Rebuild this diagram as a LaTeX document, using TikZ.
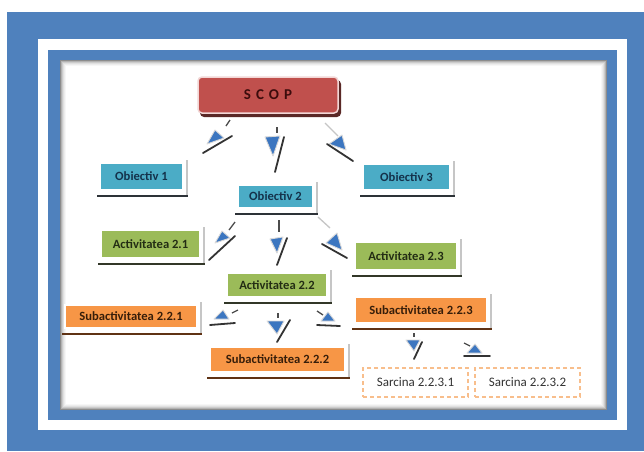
\documentclass[tikz,border=0pt]{standalone}
\usepackage{fontspec}
\setmainfont{Carlito}
\definecolor{frameblue}{RGB}{79,129,189}
\definecolor{aqua}{RGB}{75,172,198}
\definecolor{grn}{RGB}{155,187,89}
\definecolor{org}{RGB}{247,150,70}
\definecolor{scopred}{RGB}{192,80,77}
\definecolor{scopedge}{RGB}{242,215,214}
\definecolor{scopshadow}{RGB}{90,40,38}
\definecolor{arrblue}{RGB}{60,118,192}
\definecolor{dashorg}{RGB}{248,190,140}
\definecolor{txtaqua}{RGB}{20,50,75}
\definecolor{txtgrn}{RGB}{35,45,20}
\definecolor{txtorg}{RGB}{55,30,10}
\definecolor{txtscop}{RGB}{60,12,12}
\definecolor{shaqua}{RGB}{45,50,55}
\definecolor{shgrn}{RGB}{50,55,40}
\definecolor{shorg}{RGB}{95,50,20}
\newcommand\bxshadow[2]{%
  \draw[gray!45, line width=2pt] ([xshift=3.5pt,yshift=2pt]#1.north east) -- ([xshift=3.5pt,yshift=-5pt]#1.south east);
  \draw[#2, line width=1.8pt] ([xshift=-2pt,yshift=-5pt]#1.south west) -- ([xshift=4.5pt,yshift=-5pt]#1.south east);}
\begin{document}
\begin{tikzpicture}[x=1pt,y=-1pt,
  cbox/.style={draw=white, line width=1.2pt, inner sep=0pt,
    font=\fontsize{12.6}{15}\selectfont\bfseries},
  aquabox/.style={cbox, fill=aqua, text=txtaqua},
  grnbox/.style={cbox, fill=grn, text=txtgrn},
  orgbox/.style={cbox, fill=org, text=txtorg},
  sarbox/.style={draw=dashorg, line width=1.3pt, dash pattern=on 4pt off 3pt,
    fill=white, inner sep=0pt, text=black!80, font=\fontsize{13}{15}\selectfont,
    minimum width=105pt, minimum height=29pt},
  arrstub/.style={draw=black!70, line width=1.3pt},
  arrstubl/.style={draw=gray!45, line width=1.3pt},
  arrtri/.style={fill=arrblue, draw=gray!30, line width=0.9pt, line join=round},
  arrline/.style={draw=black!80, line width=1.8pt, line cap=round}]
\useasboundingbox (0,0) rectangle (644,451);
% frame
\fill[white] (0,0) rectangle (644,451);
\fill[frameblue] (7,12) rectangle (644,451);
\fill[white] (38,39) rectangle (627,430);
\fill[frameblue] (48,50) rectangle (617,420);
\fill[white] (60,60) rectangle (607,410);
\foreach \i/\o in {0/0.45,1/0.3,2/0.2,3/0.12,4/0.07,5/0.03}
  \draw[black, opacity=\o, line width=1pt] (60.5+\i,60.5+\i) rectangle (606.5-\i,409.5-\i);

% SCOP
\fill[scopshadow, rounded corners=4pt] (200,80) rectangle (341,117);
\node[draw=scopedge, fill=scopred, rounded corners=4pt, line width=1.5pt,
  minimum width=140pt, minimum height=36pt, inner sep=0pt, text=txtscop,
  font=\fontsize{15}{17}\selectfont\bfseries] (scop) at (268,95)
  {S\hspace{5pt}C\hspace{5pt}O\hspace{5pt}P};

% boxes
\node[aquabox, minimum width=83pt, minimum height=27pt] (o1) at (141.5,176.5) {Obiectiv 1};
\node[aquabox, minimum width=75pt, minimum height=23pt] (o2) at (275.5,196.5) {Obiectiv 2};
\node[aquabox, minimum width=87pt, minimum height=26pt] (o3) at (406.5,177) {Obiectiv 3};
\node[grnbox, minimum width=99pt, minimum height=28pt] (a21) at (150.5,244) {Activitatea 2.1};
\node[grnbox, minimum width=100pt, minimum height=24pt] (a22) at (277,285) {Activitatea 2.2};
\node[grnbox, minimum width=102pt, minimum height=28pt] (a23) at (406,256) {Activitatea 2.3};
\node[orgbox, minimum width=132pt, minimum height=23pt] (s221) at (131,316.5) {Subactivitatea 2.2.1};
\node[orgbox, minimum width=135pt, minimum height=25pt] (s222) at (277.5,359.5) {Subactivitatea 2.2.2};
\node[orgbox, minimum width=132pt, minimum height=26pt] (s223) at (421,310) {Subactivitatea 2.2.3};
\node[sarbox] (t1) at (415.5,382.5) {Sarcina 2.2.3.1};
\node[sarbox] (t2) at (527.5,382.5) {Sarcina 2.2.3.2};

\bxshadow{o1}{shaqua}
\bxshadow{o2}{shaqua}
\bxshadow{o3}{shaqua}
\bxshadow{a21}{shgrn}
\bxshadow{a22}{shgrn}
\bxshadow{a23}{shgrn}
\bxshadow{s221}{shorg}
\bxshadow{s222}{shorg}
\bxshadow{s223}{shorg}

% arrow glyphs
% SCOP -> Obiectiv 1
\draw[arrstub] (230,120) -- (226,126);
\draw[arrtri] (207,144) -- (215,130) -- (224,138) -- cycle;
\draw[arrline] (203,153) -- (232,136);
% SCOP -> Obiectiv 2
\draw[arrstub] (277,127) -- (277,133);
\draw[arrtri] (265,137) -- (280,136) -- (273,156) -- cycle;
\draw[arrline] (284,137) -- (275,172);
% SCOP -> Obiectiv 3
\draw[arrstubl] (325,123) -- (338,136);
\draw[arrtri] (329,144) -- (342,135) -- (346,150) -- cycle;
\draw[arrline] (327,144) -- (353,161);
% Obiectiv 2 -> Activitatea 2.1
\draw[arrstub] (235,222) -- (229,230);
\draw[arrtri] (215,243) -- (222,231) -- (230,238) -- cycle;
\draw[arrline] (209,260) -- (235,236);
% Obiectiv 2 -> Activitatea 2.2
\draw[arrstub] (279,220) -- (279,232);
\draw[arrtri] (270,239) -- (283,237) -- (277,253) -- cycle;
\draw[arrline] (287,238) -- (277,265);
% Obiectiv 2 -> Activitatea 2.3
\draw[arrstubl] (318,217) -- (330,228);
\draw[arrtri] (326,243) -- (337,233) -- (342,250) -- cycle;
\draw[arrline] (322,244) -- (347,258);
% Activitatea 2.2 -> Subactivitatea 2.2.1
\draw[arrstub] (232,313) -- (238,310);
\draw[arrtri] (214,319) -- (223,310) -- (229,319) -- cycle;
\draw[arrline] (210,325) -- (235,323);
% Activitatea 2.2 -> Subactivitatea 2.2.2
\draw[arrstub] (278,313) -- (278,318);
\draw[arrtri] (267,321) -- (284,321) -- (277,334) -- cycle;
\draw[arrline] (290,320) -- (277,342);
% Activitatea 2.2 -> Subactivitatea 2.2.3
\draw[arrstub] (317,311) -- (323,315);
\draw[arrtri] (321,321) -- (328,312) -- (335,321) -- cycle;
\draw[arrline] (317,325) -- (340,326);
% Subactivitatea 2.2.3 -> Sarcina 2.2.3.1
\draw[arrstub] (414,333) -- (414,337);
\draw[arrtri] (406,340) -- (420,340) -- (414,351) -- cycle;
\draw[arrline] (422,342) -- (414,359);
% Subactivitatea 2.2.3 -> Sarcina 2.2.3.2
\draw[arrstub] (464,343) -- (470,346);
\draw[arrtri] (467,353) -- (475,344) -- (482,353) -- cycle;
\draw[arrline] (464,356) -- (490,356);
\end{tikzpicture}
\end{document}
